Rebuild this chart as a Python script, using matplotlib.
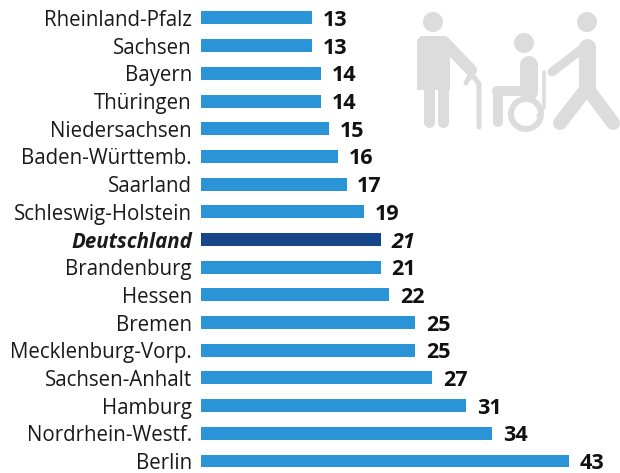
import matplotlib
matplotlib.use("Agg")
import matplotlib.pyplot as plt
from matplotlib.patches import Circle, Polygon

regions = ["Rheinland-Pfalz", "Sachsen", "Bayern", "Thüringen", "Niedersachsen",
           "Baden-Württemb.", "Saarland", "Schleswig-Holstein", "Deutschland",
           "Brandenburg", "Hessen", "Bremen", "Mecklenburg-Vorp.", "Sachsen-Anhalt",
           "Hamburg", "Nordrhein-Westf.", "Berlin"]
values = [13, 13, 14, 14, 15, 16, 17, 19, 21, 21, 22, 25, 25, 27, 31, 34, 43]
highlight = "Deutschland"

BLUE = "#2a94d6"
DARK = "#17458a"
GREY = "#dcdcdc"
TXT = "#1a1a1a"
W, H = 620, 473

plt.rcParams["font.family"] = ["Open Sans", "DejaVu Sans"]
fig = plt.figure(figsize=(W / 100, H / 100), dpi=100, facecolor="white")

# decorative pictogram layer, in pixel coordinates
bg = fig.add_axes([0, 0, 1, 1], zorder=0)
bg.set_xlim(0, W); bg.set_ylim(H, 0); bg.axis("off")

def stroke(pts, px):
    xs, ys = zip(*pts)
    bg.plot(xs, ys, color=GREY, lw=px * 0.72, solid_capstyle="round",
            solid_joinstyle="round")

# man with cane
bg.add_patch(Circle((433, 22), 10, color=GREY, lw=0))
bg.add_patch(Polygon([(421, 36), (443, 36), (450, 44), (450, 90), (417, 90), (417, 40)],
                     color=GREY, lw=0))
stroke([(429, 88), (429, 122)], 11)
stroke([(443, 88), (443, 122)], 11)
stroke([(444, 42), (471, 70)], 12)
stroke([(479, 127), (479, 84), (474, 77), (469, 77), (466, 83)], 5)
# wheelchair user
bg.add_patch(Circle((524, 43), 10, color=GREY, lw=0))
stroke([(529, 65), (529, 92)], 18)
stroke([(497, 91), (527, 91)], 10)
stroke([(498, 91), (498, 122)], 10)
bg.add_patch(Circle((526, 114), 15, fill=False, ec=GREY, lw=6 * 0.72))
stroke([(544, 72), (544, 107), (538, 116)], 3.5)
# walking helper
bg.add_patch(Circle((587, 22), 10, color=GREY, lw=0))
stroke([(587, 45), (552, 72)], 9)
stroke([(587, 47), (587, 90)], 17)
stroke([(587, 88), (560, 123)], 14)
stroke([(587, 88), (613, 123)], 14)

# bars
x0 = 201
ax = fig.add_axes([x0 / W, 0, 1 - x0 / W, 1], zorder=1)
ax.patch.set_alpha(0)
SCALE = 8.56  # px per unit
ax.set_xlim(0, (W - x0) / SCALE)
y_step = (461 - 18) / 16
ax.set_ylim((H - 18) / y_step, -18 / y_step)
pos = list(range(len(regions)))
colors = [DARK if r == highlight else BLUE for r in regions]
ax.barh(pos, values, height=13 / y_step, color=colors, lw=0)
ax.set_yticks(pos, regions)
ax.set_xticks([])
ax.tick_params(axis="y", length=0, pad=6.5, labelsize=14.8, labelcolor=TXT)
for s in ax.spines.values():
    s.set_visible(False)
for t, r in zip(ax.get_yticklabels(), regions):
    if r == highlight:
        t.set_fontweight("bold"); t.set_fontstyle("italic")
for i, (r, v) in enumerate(zip(regions, values)):
    ax.annotate(str(v), (v, i), xytext=(7.7, 0), textcoords="offset points", va="center_baseline",
                ha="left", fontsize=15.5, fontweight="bold", color="#111111",
                fontstyle="italic" if r == highlight else "normal")
fig.savefig("out.png", dpi=100)
